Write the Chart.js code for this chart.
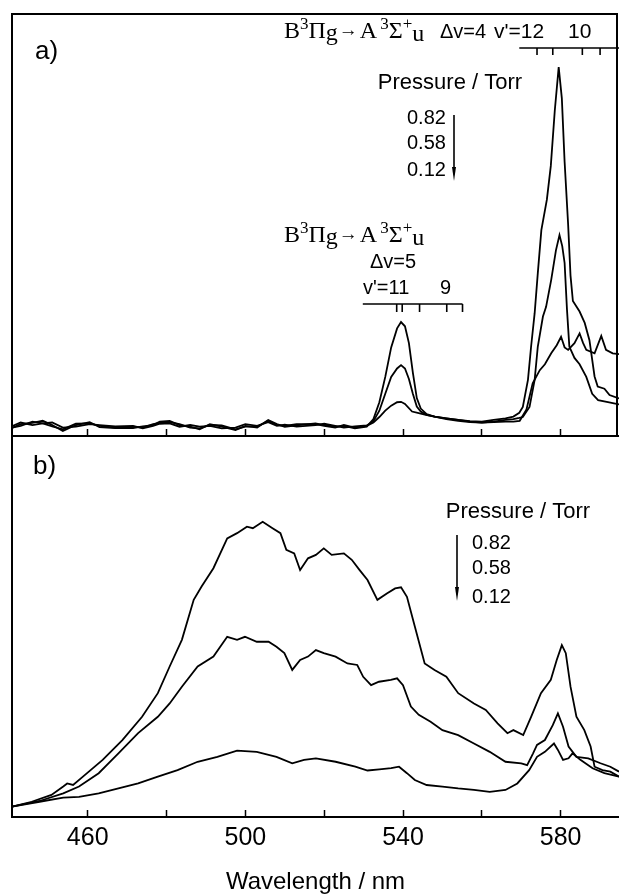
<!DOCTYPE html>
<html>
<head>
<meta charset="utf-8">
<script src="https://cdn.jsdelivr.net/npm/chart.js@4.4.1/dist/chart.umd.min.js"></script>
<style>
  html, body { margin: 0; padding: 0; background: #fff; }
  #wrap { position: relative; width: 619px; height: 894px; }
  #boxA { position: absolute; left: 0; top: 0; width: 619px; height: 440px; }
  #boxB { position: absolute; left: 0; top: 436px; width: 619px; height: 458px; }
</style>
</head>
<body>
<div id="wrap">
  <div id="boxA"><canvas id="chart-a"></canvas></div>
  <div id="boxB"><canvas id="chart-b"></canvas></div>
</div>
<script>
// x axis (nm)
const xMin = 440.8, xMax = 594.8;
const xTicks = [460, 480, 500, 520, 540, 560, 580];
const xLabels = [460, 500, 540, 580];
const pressures = ['0.82', '0.58', '0.12'];

// panel a) - emission spectra, relative intensity (0-100)
const aWave82 = [440.8,443,446,448.6,451,453.7,457,460.5,463,467,471.5,474,476.6,478.3,480.8,483.3,486,488.4,491,494,497.5,500,503,505.8,508,510,513,517.8,520,522.8,525,527.8,530.8,532.5,534,535.5,537,538.5,539.5,540.5,541.5,542.5,543.5,544.5,546,548,551,554,557,560,563,566,568,569.5,570.4,571.7,572.5,573.4,574.2,575.1,576.5,577.5,578.5,579.5,580.3,581,581.9,582.5,583.1,584.8,586.1,587.3,588.6,589.4,591.1,592.4,594.8];
const aInt82 = [1.9,2.8,3.1,3.6,2.6,1.2,2.6,3.3,2.1,1.9,1.9,2.3,2.6,3.4,3.6,2.6,2.2,1.6,2.8,2.2,1.4,2.4,2.0,3.8,2.8,2.2,2.5,3.0,2.6,2.2,2.4,1.8,2.2,4,8,14,21,25.5,27,26,22,15,9,6.5,5.2,4.6,4.2,3.8,3.5,3.4,3.8,4.2,4.6,5.5,6.9,13.3,21.2,29.1,38.6,48.8,56,64,77,87.4,80,65,50,38,32,29.5,26.8,22.7,14.1,11.7,11.2,9.7,8.9];

const aWave58 = [440.8,443,446,448.6,451,453.7,457,460.5,463,467,471.5,474,476.6,478.3,480.8,483.3,486,488.4,491,494,497.5,500,503,505.8,508,510,513,517.8,520,522.8,525,527.8,530.8,532.5,534,535.5,537,538.5,539.5,540.5,541.5,542.5,543.5,544.5,546,548,551,554,557,560,563,566,568,569.5,570.4,572.1,573.4,574.2,575.5,576.3,577.6,578.8,579.7,580.4,581,581.6,582.2,583.5,584.8,586.5,588,589.5,592,594.8];
const aInt58 = [2.3,3.2,2.6,3.0,3.2,2.0,2.2,2.8,2.6,2.3,2.4,1.8,2.4,2.9,3.0,2.2,2.6,2.2,2.4,1.8,2.0,2.8,2.4,3.3,2.4,2.7,2.2,2.6,2.9,2.4,2.0,2.3,2.5,3.5,6,10,14,16,16.8,16,13.5,10,7,5.8,5.0,4.6,4.0,3.6,3.3,3.2,3.4,3.8,4,4.3,4.5,6.9,13.3,21.2,28.3,30.6,37,44,47.6,45,41,30,21.2,18.5,17,14,10,8.5,8,7.5];

const aWave12 = [440.8,443,446,448.6,451,453.7,457,460.5,463,467,471.5,474,476.6,478.3,480.8,483.3,486,488.4,491,494,497.5,500,503,505.8,508,510,513,517.8,520,522.8,525,527.8,530.8,532.5,534,535.5,537,538.5,539.5,540.5,542.3,544,545.8,548,551,554,557,560,563,566,568,569.6,571.3,572.9,574.7,576,577.6,579,580.1,581,581.9,583.5,584.8,585.7,586.5,588.6,590.3,591.5,593.2,594.8];
const aInt12 = [2.0,2.4,3.4,3.0,2.3,1.6,2.9,3.0,2.4,2.0,2.2,2.0,2.8,3.1,3.3,2.8,2.0,1.8,2.6,2.5,1.6,2.2,2.2,3.6,2.6,2.4,2.8,2.8,2.4,2.0,2.6,2.0,2.4,3.2,4.5,6,7.2,8,8.1,7.6,5.8,5.4,5.0,4.6,4.2,3.8,3.4,3.2,3.3,3.4,3.4,3.6,6.2,12.5,15.6,17,19.6,21.5,23.5,21,20.4,22,24.3,22,20.4,19.6,23.7,20.4,19.6,19.4];

// panel b) - emission spectra, relative intensity (0-100)
const bWave82 = [440.8,445.8,450.8,453.8,454.8,456.3,458.8,463.8,468.8,473.8,477.8,480.8,483.9,486.9,488.9,491.9,495.4,497.9,500.4,501.9,504.4,506.9,508.9,510.4,512.4,513.9,515.9,517.9,519.9,521.9,525.0,527.0,529.0,531.0,533.5,536.0,538.0,539.5,541.0,543.0,545.5,548.0,551.0,554.0,558.0,561.0,564.0,566.5,568.0,570.5,572.5,575.0,577.5,579.0,580.3,581.3,582.5,584.0,586.0,587.6,588.6,590.6,592.6,594.8];
const bInt82 = [2.7,4.0,5.8,8.0,8.8,8.4,10.6,15.0,20.2,26.3,32.5,39.5,46.5,57.0,60.5,65.3,73.1,74.5,76.2,75.8,77.5,75.8,74.5,70.1,69.2,64.8,67.9,68.8,70.5,68.8,69.2,67.5,64.8,62.2,57.0,58.7,60.0,60.3,57.8,50.0,40.3,38.6,36.8,32.5,29.8,28.1,24.6,22.0,22.8,21.5,26.3,32.5,36.0,41.2,45.1,43.0,34.2,26.3,22.8,18.5,13.2,12.3,11.9,10.6];

const bWave58 = [440.8,447.8,453.8,457.8,462.8,467.8,472.8,477.8,480.8,483.9,487.9,491.9,495.4,497.9,499.9,502.9,505.9,507.9,509.9,511.9,513.9,515.9,517.9,519.9,522.9,525.9,528.4,529.9,531.9,533.9,536.9,538.5,540.0,542.0,544.0,547.0,550.0,554.0,558.0,562.0,566.0,570.0,571.5,573.0,574.0,576.0,578.0,579.3,580.6,582.0,584.0,587.0,590.1,592.6,594.8];
const bInt58 = [2.7,4.2,6.2,8.0,11.5,16.7,22.0,26.3,29.8,34.2,39.5,42.1,47.3,46.5,47.3,46.0,46.0,44.7,43.0,38.6,41.2,42.1,43.8,43.0,42.1,40.3,39.9,36.8,34.6,35.5,36.0,36.4,34.6,29.0,26.8,25.0,22.8,21.5,19.3,17.1,14.5,14.1,13.6,16.7,18.9,20.2,24.1,27.2,23.7,18.5,15.8,15.4,14.1,13.2,11.9];

const bWave12 = [440.8,447.8,453.8,457.8,462.8,467.8,472.8,477.8,482.8,487.9,492.9,497.9,502.9,507.9,511.9,514.9,517.9,522.9,527.9,531.0,534.0,537.0,539.0,541.0,543.0,546.0,550.0,554.0,558.0,562.0,566.0,569.0,572.0,574.0,576.0,578.3,579.3,580.6,582.0,583.0,585.0,588.1,591.1,594.8];
const bInt12 = [2.7,4.0,5.1,5.3,6.2,7.5,8.8,10.6,12.3,14.5,15.8,17.4,17.1,15.8,14.1,15.0,15.4,14.5,13.2,12.2,12.5,12.8,13.2,11.5,9.7,8.4,8.0,7.5,7.1,6.6,7.1,8.8,12.3,15.8,17.1,19.3,17.6,15.0,15.4,16.7,15.0,12.8,11.5,10.6];

// band-head marker positions (nm)
const dv4Bar = [569.5, 594.8];
const dv4Marks = [574, 578, 585.5, 590];
const dv5Bar = [529.8, 555.1];
const dv5Marks = [538.4, 539.8, 544.2, 551.1, 555.1];

const SANS = '"Liberation Sans", Arial, sans-serif';
const SERIF = '"Liberation Serif", "Times New Roman", serif';

function pts(xs, ys) {
  return xs.map((x, i) => ({ x: x, y: ys[i] }));
}

function line(data) {
  return { data: data, borderColor: '#000', borderWidth: 1.8, pointRadius: 0, fill: false, tension: 0 };
}

function xScale(showLabels, axisHeight) {
  return {
    type: 'linear',
    min: xMin,
    max: xMax,
    afterBuildTicks: s => { s.ticks = xTicks.map(v => ({ value: v })); },
    afterFit: s => { s.height = axisHeight; },
    border: { display: true, color: '#000', width: 2 },
    grid: { display: true, drawOnChartArea: false, drawTicks: true, tickLength: -7, tickWidth: 1.5, tickColor: '#000' },
    ticks: {
      display: showLabels, padding: 13, color: '#000', autoSkip: false, maxRotation: 0,
      font: { family: SANS, size: 25 },
      callback: v => xLabels.includes(v) ? String(v) : ''
    },
    title: { display: showLabels, text: 'Wavelength / nm', color: '#000', font: { family: SANS, size: 24, lineHeight: 1 }, padding: 0 }
  };
}

function rich(ctx, x, y, parts) {
  ctx.textBaseline = 'alphabetic';
  ctx.textAlign = 'left';
  for (const p of parts) {
    ctx.font = p.font;
    ctx.fillText(p.t, x, y + (p.dy || 0));
    x += ctx.measureText(p.t).width + (p.gap || 0);
  }
  return x;
}

function transition(ctx, x, y) {
  const big = '24px ' + SERIF, sm = '17px ' + SERIF;
  return rich(ctx, x, y, [
    { t: 'B', font: big },
    { t: '3', font: sm, dy: -9 },
    { t: 'Π', font: big },
    { t: 'g', font: big, dy: 2, gap: 1 },
    { t: '→', font: 'bold 19px ' + SANS, dy: -2, gap: 2 },
    { t: 'A', font: big, gap: 3 },
    { t: '3', font: sm, dy: -9 },
    { t: 'Σ', font: big },
    { t: '+', font: sm, dy: -9 },
    { t: 'u', font: big, dy: 3 }
  ]);
}

function downArrow(ctx, x, y1, y2) {
  ctx.lineWidth = 1.6;
  ctx.beginPath();
  ctx.moveTo(x, y1);
  ctx.lineTo(x, y2 - 8);
  ctx.stroke();
  ctx.beginPath();
  ctx.moveTo(x - 2, y2 - 14);
  ctx.lineTo(x + 2, y2 - 14);
  ctx.lineTo(x, y2);
  ctx.closePath();
  ctx.fill();
}

function legend(ctx, cx, y, numX, rows, arrowX, a1, a2) {
  ctx.textAlign = 'center';
  ctx.textBaseline = 'middle';
  ctx.font = '22px ' + SANS;
  ctx.fillText('Pressure / Torr', cx, y);
  ctx.textAlign = 'left';
  ctx.font = '20px ' + SANS;
  pressures.forEach((p, i) => ctx.fillText(p, numX, rows[i]));
  downArrow(ctx, arrowX, a1, a2);
}

function markerBar(ctx, xs, bar, marks, y, len) {
  ctx.lineWidth = 1.6;
  ctx.beginPath();
  ctx.moveTo(xs.getPixelForValue(bar[0]), y);
  ctx.lineTo(Math.min(xs.getPixelForValue(bar[1]), 619), y);
  marks.forEach(m => {
    const px = xs.getPixelForValue(m);
    ctx.moveTo(px, y);
    ctx.lineTo(px, y + len);
  });
  ctx.stroke();
}

const panelA = {
  id: 'panelA',
  afterDraw(chart) {
    const ctx = chart.ctx, a = chart.chartArea, xs = chart.scales.x;
    ctx.save();
    ctx.strokeStyle = '#000';
    ctx.fillStyle = '#000';
    ctx.lineWidth = 2;
    ctx.beginPath();
    ctx.moveTo(a.left, a.bottom);
    ctx.lineTo(a.left, a.top);
    ctx.lineTo(a.right - 2, a.top);
    ctx.lineTo(a.right - 2, a.bottom);
    ctx.stroke();

    ctx.font = '26px ' + SANS;
    ctx.textAlign = 'left';
    ctx.textBaseline = 'middle';
    ctx.fillText('a)', 35, 52);

    legend(ctx, 450, 83, 407, [118, 143, 170], 454, 115, 181);

    // Δv=4 progression
    transition(ctx, 284, 38);
    ctx.font = '20px ' + SANS;
    ctx.fillText('Δv=4', 440, 38);
    ctx.font = '21px ' + SANS;
    ctx.fillText("v'=12", 494, 38);
    ctx.fillText('10', 568, 38);
    markerBar(ctx, xs, dv4Bar, dv4Marks, 48, 7);

    // Δv=5 progression
    transition(ctx, 284, 242);
    ctx.font = '20px ' + SANS;
    ctx.fillText('Δv=5', 370, 268);
    ctx.fillText("v'=11", 363, 294);
    ctx.fillText('9', 440, 294);
    markerBar(ctx, xs, dv5Bar, dv5Marks, 304, 8);
    ctx.restore();
  }
};

const panelB = {
  id: 'panelB',
  afterDraw(chart) {
    const ctx = chart.ctx, a = chart.chartArea;
    ctx.save();
    ctx.strokeStyle = '#000';
    ctx.fillStyle = '#000';
    ctx.lineWidth = 2;
    ctx.beginPath();
    ctx.moveTo(a.left, a.bottom);
    ctx.lineTo(a.left, a.top);
    ctx.stroke();

    ctx.font = '26px ' + SANS;
    ctx.textAlign = 'left';
    ctx.textBaseline = 'middle';
    ctx.fillText('b)', 33, 31);

    legend(ctx, 518, 76, 472, [107, 132, 161], 457, 99, 165);
    ctx.restore();
  }
};

function makeChart(id, datasets, padding, showLabels, axisHeight, plugin) {
  return new Chart(document.getElementById(id), {
    type: 'line',
    data: { datasets: datasets },
    options: {
      responsive: true,
      maintainAspectRatio: false,
      animation: false,
      devicePixelRatio: 1,
      events: [],
      layout: { padding: padding },
      plugins: { legend: { display: false }, tooltip: { enabled: false } },
      scales: {
        x: xScale(showLabels, axisHeight),
        y: { display: false, min: 0, max: 100 }
      }
    },
    plugins: [plugin]
  });
}

makeChart('chart-a', [
  line(pts(aWave82, aInt82)),
  line(pts(aWave58, aInt58)),
  line(pts(aWave12, aInt12))
], { left: 12, top: 14, right: 0, bottom: 0 }, false, 4, panelA);

makeChart('chart-b', [
  line(pts(bWave82, bInt82)),
  line(pts(bWave58, bInt58)),
  line(pts(bWave12, bInt12))
], { left: 12, top: 0, right: 0, bottom: 0 }, true, 77, panelB);
</script>
</body>
</html>
